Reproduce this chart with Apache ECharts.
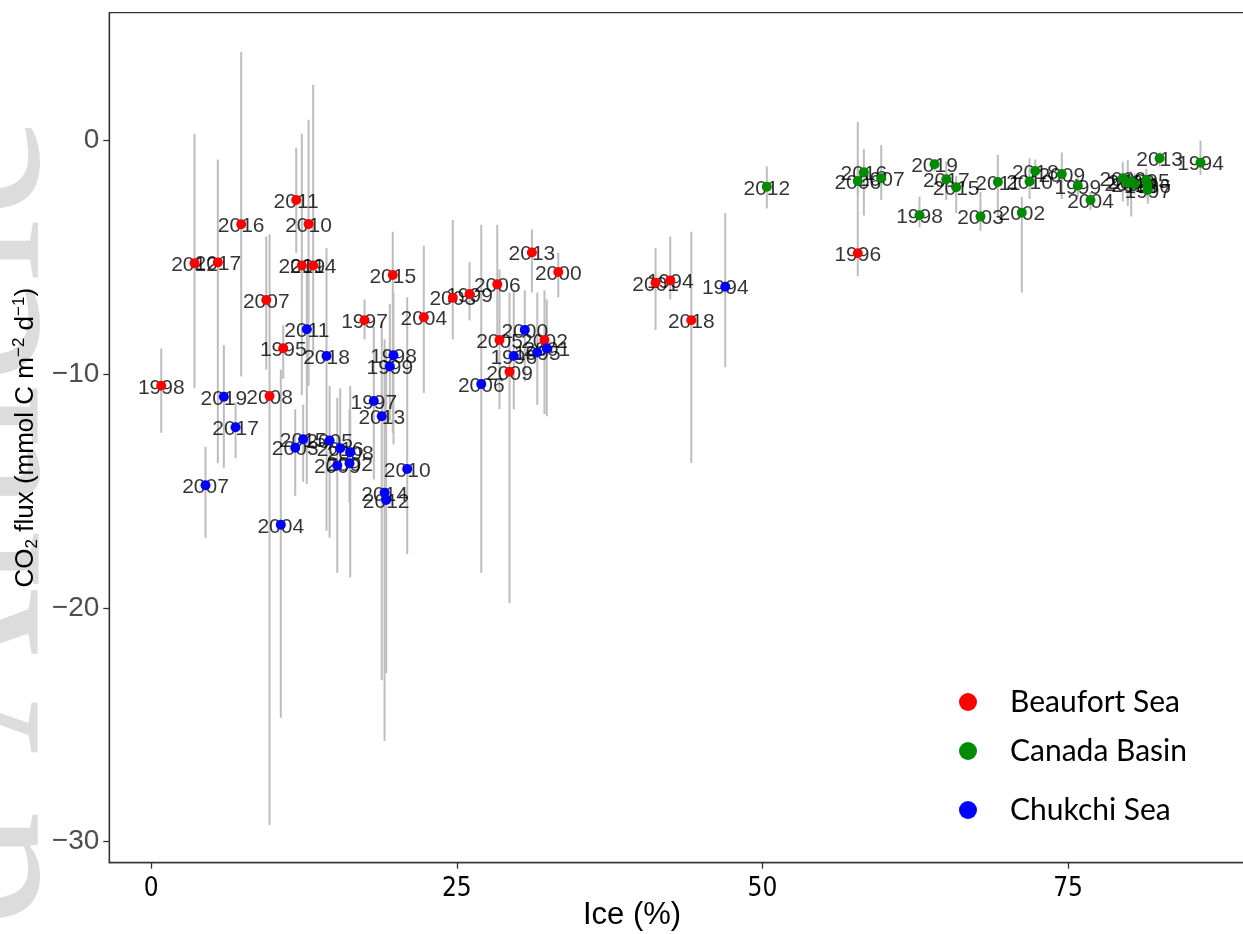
<!DOCTYPE html>
<html>
<head>
<meta charset="utf-8">
<title>CO2 flux vs ice</title>
<script src="https://cdn.jsdelivr.net/npm/echarts@6/dist/echarts.min.js"></script>
<style>
html, body { margin: 0; padding: 0; background: #fff; }
#main { width: 1243px; height: 934px; }
</style>
</head>
<body>
<div id="main"></div>
<script>
// Beaufort Sea
var bfYear = ['1998','2012','2017','2016','2007','2008','1995','2011','2019','2010','2014','1997','2015','2004','2003','1999','2006','2005','2009','2013','2002','2000','2001','1994','2018','1996'];
var bfIce  = [0.82,3.54,5.45,7.36,9.41,9.68,10.80,11.86,12.32,12.87,13.25,17.45,19.76,22.30,24.67,26.04,28.31,28.49,29.31,31.14,32.17,33.30,41.26,42.46,44.18,57.80];
var bfFlux = [-10.49,-5.25,-5.21,-3.58,-6.82,-10.93,-8.89,-2.54,-5.34,-3.57,-5.34,-7.69,-5.75,-7.56,-6.72,-6.56,-6.15,-8.53,-9.89,-4.79,-8.53,-5.62,-6.08,-5.98,-7.69,-4.82];
var bfLow  = [-12.5,-10.6,-13.8,-10.1,-9.8,-29.3,-10.2,-4.8,-10.9,-10.5,-9.2,-8.5,-12.5,-10.8,-8.5,-7.7,-8.6,-11.5,-19.8,-6.5,-11.7,-6.7,-8.1,-6.8,-13.8,-5.8];
var bfHigh = [-8.9,0.3,-0.8,3.8,-4.1,-4.0,-7.9,-0.3,0.3,0.9,2.4,-6.8,-3.9,-4.5,-3.4,-5.2,-3.6,-5.5,-6.5,-3.8,-6.4,-4.8,-4.6,-4.1,-3.9,0.8];

// Canada Basin
var cbYear = ['2012','2006','2016','2007','1998','2019','2017','2015','2003','2011','2002','2010','2018','2009','1999','2004','2000','2001','2008','2014','1995','1996','1997','2013','1994'];
var cbIce  = [50.36,57.80,58.30,59.72,62.85,64.08,65.04,65.85,67.84,69.26,71.22,71.85,72.32,74.49,75.80,76.84,79.48,79.89,80.17,80.44,81.40,81.50,81.53,82.49,85.84];
var cbFlux = [-1.97,-1.73,-1.35,-1.61,-3.19,-1.01,-1.65,-1.99,-3.25,-1.77,-3.08,-1.75,-1.30,-1.43,-1.93,-2.54,-1.61,-1.82,-1.75,-1.85,-1.68,-1.89,-2.11,-0.75,-0.94];
var cbLow  = [-2.9,-2.3,-3.2,-2.54,-3.7,-1.3,-2.54,-3.1,-3.85,-3.25,-6.5,-2.5,-2.0,-2.5,-2.4,-2.97,-2.6,-2.8,-3.25,-2.3,-2.2,-2.5,-2.7,-1.1,-1.47];
var cbHigh = [-1.1,-1.0,-0.37,-0.18,-2.4,-0.8,-0.9,-1.5,-2.2,-0.61,-2.4,-0.75,-0.8,-0.51,-1.5,-2.2,-0.9,-0.83,-1.3,-1.4,-1.2,-1.4,-1.6,-0.5,0.0];

// Chukchi Sea
var csYear = ['2007','2019','2017','2004','2003','2015','2011','2018','2005','2009','2016','2002','2008','1997','2013','2014','2012','1999','1998','2010','2006','1996','2000','1995','2001','1994'];
var csIce  = [4.44,5.94,6.90,10.60,11.78,12.43,12.73,14.34,14.59,15.22,15.46,16.22,16.28,18.21,18.86,19.09,19.22,19.52,19.82,20.94,27.00,29.66,30.56,31.58,32.36,46.96];
var csFlux = [-14.75,-10.96,-12.27,-16.44,-13.14,-12.78,-8.07,-9.22,-12.84,-13.90,-13.17,-13.81,-13.34,-11.14,-11.80,-15.07,-15.38,-9.67,-9.19,-14.05,-10.42,-9.22,-8.10,-9.07,-8.89,-6.25];
var csLow  = [-17.0,-14.0,-13.6,-24.7,-15.2,-14.6,-14.7,-16.7,-17.0,-18.5,-14.0,-15.5,-18.7,-14.5,-23.1,-25.7,-22.8,-12.0,-13.0,-17.7,-18.5,-11.5,-10.3,-11.3,-11.8,-9.7];
var csHigh = [-13.1,-8.75,-11.2,-9.8,-11.5,-11.3,-5.3,-4.6,-10.5,-11.0,-10.6,-11.5,-10.5,-7.96,-7.7,-8.5,-9.0,-7.0,-6.5,-6.7,-3.6,-6.4,-6.4,-6.5,-6.8,-3.1];

var seaNames  = ['Beaufort Sea', 'Canada Basin', 'Chukchi Sea'];
var seaColors = ['#ff0000', '#008b00', '#0000ff'];
var xTicks = [0, 25, 50, 75];
var yTicks = [-30, -20, -10, 0];

function points(year, ice, flux) {
  return year.map(function (y, i) { return { name: y, value: [ice[i], flux[i]] }; });
}
function bars(ice, low, high) {
  return ice.map(function (x, i) { return [x, low[i], high[i]]; });
}

var groups = [
  points(bfYear, bfIce, bfFlux),
  points(cbYear, cbIce, cbFlux),
  points(csYear, csIce, csFlux)
];
var errData = bars(bfIce, bfLow, bfHigh).concat(bars(cbIce, cbLow, cbHigh), bars(csIce, csLow, csHigh));

var series = [{
  name: 'errorbar',
  type: 'custom',
  z: 1,
  clip: true,
  data: errData,
  encode: { x: 0, y: [1, 2] },
  renderItem: function (params, api) {
    var p1 = api.coord([api.value(0), api.value(1)]);
    var p2 = api.coord([api.value(0), api.value(2)]);
    return {
      type: 'line',
      shape: { x1: p1[0], y1: p1[1], x2: p2[0], y2: p2[1] },
      style: { stroke: '#bdbdbd', lineWidth: 2 }
    };
  }
}];

// year labels, drawn under the dots
groups.forEach(function (g, i) {
  series.push({
    name: 'label' + i,
    type: 'scatter',
    z: 2,
    symbolSize: 1,
    itemStyle: { color: 'rgba(0,0,0,0)' },
    data: g,
    label: {
      show: true,
      position: 'inside',
      offset: [0, 2],
      formatter: '{b}',
      color: '#000',
      fontSize: 21,
      fontFamily: 'Liberation Sans, Arial, sans-serif'
    }
  });
});
// dots
groups.forEach(function (g, i) {
  series.push({
    name: seaNames[i],
    type: 'scatter',
    z: 3,
    symbolSize: 10,
    itemStyle: { color: seaColors[i], opacity: 1 },
    data: g
  });
});

var legendTops = [686, 735, 794];
var legends = seaNames.map(function (n, i) {
  return {
    data: [n],
    left: 959,
    top: legendTops[i],
    padding: 0,
    icon: 'circle',
    itemWidth: 18,
    itemHeight: 18,
    selectedMode: false,
    textStyle: { fontSize: 30, lineHeight: 32, fontFamily: 'Lato, Open Sans, sans-serif', color: '#000', padding: [0, 0, 0, 28] }
  };
});

var option = {
  backgroundColor: '#fff',
  animation: false,
  legend: legends,
  grid: {
    left: 109.3, top: 12.7, width: 1143.3, height: 850,
    outerBoundsMode: 'none',
    show: true, borderColor: '#333', borderWidth: 1.3, backgroundColor: 'transparent'
  },
  xAxis: {
    type: 'value',
    min: -3.43,
    max: 90.1,
    axisLine: { show: true, onZero: false, lineStyle: { color: '#333', width: 1.3 } },
    axisTick: { show: true, customValues: xTicks, length: 6, lineStyle: { color: '#333', width: 1.3 } },
    axisLabel: {
      customValues: xTicks, margin: 14, fontSize: 26, color: '#000',
      fontFamily: 'Liberation Sans Narrow, DejaVu Sans Condensed, sans-serif'
    },
    splitLine: { show: false }
  },
  yAxis: {
    type: 'value',
    min: -30.91,
    max: 5.48,
    axisLine: { show: true, onZero: false, lineStyle: { color: '#333', width: 1.3 } },
    axisTick: { show: true, customValues: yTicks, length: 6, lineStyle: { color: '#333', width: 1.3 } },
    axisLabel: {
      customValues: yTicks, margin: 10, fontSize: 28, color: '#4d4d4d',
      fontFamily: 'Liberation Sans, Arial, sans-serif',
      formatter: function (v) { return v < 0 ? '\u2212' + (-v) : String(v); }
    },
    splitLine: { show: false },
    name: 'CO{sub|2} flux (mmol C m{sup|\u22122} d{sup|\u22121})',
    nameLocation: 'middle',
    nameRotate: 90,
    nameGap: 51,
    nameTextStyle: {
      fontSize: 26, lineHeight: 30, color: '#000',
      fontFamily: 'Liberation Sans, Arial, sans-serif',
      rich: {
        sub: { fontSize: 17, lineHeight: 18, verticalAlign: 'bottom', fontFamily: 'Liberation Sans, Arial, sans-serif' },
        sup: { fontSize: 17, lineHeight: 18, verticalAlign: 'top', fontFamily: 'Liberation Sans, Arial, sans-serif' }
      }
    }
  },
  graphic: [
    {
      type: 'text', silent: true, z: -10,
      x: -22, y: 116, rotation: Math.PI / 2,
      style: {
        text: 'Accepted Article', fill: '#dcdcdc',
        font: '230px "Liberation Serif", "Times New Roman", serif',
        align: 'right', verticalAlign: 'middle'
      }
    },
    {
      type: 'text', silent: true,
      x: 632, y: 915,
      style: {
        text: 'Ice (%)', fill: '#000',
        font: '31px "Liberation Sans", Arial, sans-serif',
        align: 'center', verticalAlign: 'middle'
      }
    }
  ],
  series: series
};

var myChart = echarts.init(document.getElementById('main'));
myChart.setOption(option);
</script>
</body>
</html>
